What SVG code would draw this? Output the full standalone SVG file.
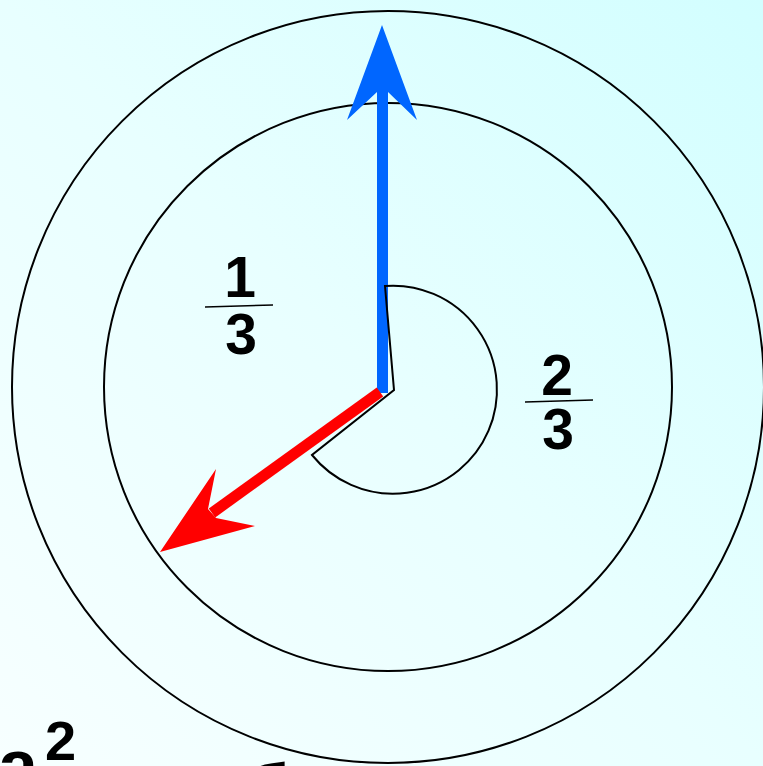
<svg xmlns="http://www.w3.org/2000/svg" width="763" height="766" viewBox="0 0 763 766">
<defs>
<linearGradient id="bg" x1="0" y1="1" x2="1" y2="0">
<stop offset="0" stop-color="#F7FFFF"/>
<stop offset="0.5" stop-color="#E8FFFF"/>
<stop offset="1" stop-color="#D2FEFF"/>
</linearGradient>
<style>
.ring{fill:none;stroke:#000;stroke-width:2}
.num{font-family:"Liberation Sans",Arial,sans-serif;font-weight:bold;font-size:57px;fill:#000;text-anchor:middle}
.bar{stroke:#000;stroke-width:1.5}
.big{font-family:"Liberation Sans",Arial,sans-serif;font-weight:bold;fill:#000}
</style>
</defs>
<rect x="0" y="0" width="763" height="766" fill="url(#bg)"/>
<g id="outer-circle"><circle class="ring" cx="388" cy="387" r="376"/></g>
<g id="inner-circle"><circle class="ring" cx="388" cy="387" r="284"/></g>
<g id="connectors">
<g id="blue-arrow">
<polygon fill="#0066FF" points="382,25 417,120 388,92 388,393 377,393 377,92 347,120"/>
</g>
<g id="red-arrow">
<line x1="380" y1="392" x2="212" y2="513" stroke="#FF0000" stroke-width="11"/>
<polygon fill="#FF0000" points="160,552 216,469 208,509 216,518 255,526"/>
</g>
</g>
<g id="angle-sector">
<path d="M394 390 L385 286 A104 104 0 1 1 312 455 Z" fill="none" stroke="#000" stroke-width="2"/>
</g>
<g id="frac-1-3">
<text class="num" x="240" y="297">1</text>
<line class="bar" x1="205" y1="307" x2="273" y2="305"/>
<text class="num" x="241" y="354">3</text>
</g>
<g id="frac-2-3">
<text class="num" x="557" y="395">2</text>
<line class="bar" x1="525" y1="402" x2="593" y2="400"/>
<text class="num" x="558" y="449">3</text>
</g>
<g id="bottom-text">
<text class="big" x="-2" y="790" font-size="72">a</text>
<text class="big" x="45" y="760" font-size="56">2</text>
<text class="big" x="245" y="815" font-size="72">б</text>
</g>
</svg>
